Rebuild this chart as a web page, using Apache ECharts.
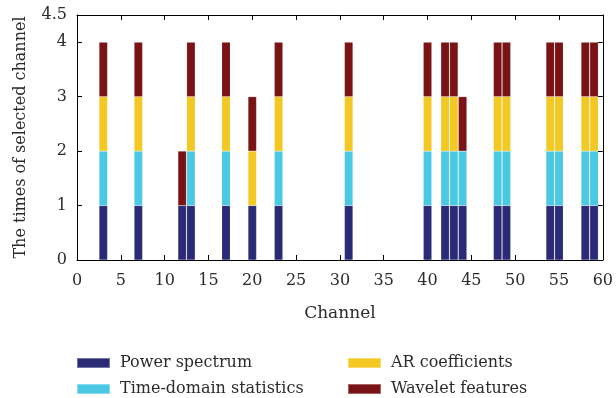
<!DOCTYPE html>
<html>
<head>
<meta charset="utf-8">
<script src="https://cdn.jsdelivr.net/npm/echarts@6/dist/echarts.min.js"></script>
<style>
  html, body { margin: 0; padding: 0; background: #fff; }
  #chart { width: 616px; height: 398px; }
</style>
</head>
<body>
<div id="chart"></div>
<script>
// Channels that were selected at least once
const channels = [3, 7, 12, 13, 17, 20, 23, 31, 40, 42, 43, 44, 48, 49, 54, 55, 58, 59];

// Selection counts per feature type, aligned with `channels`
const powerSpectrum   = [1, 1, 1, 1, 1, 1, 1, 1, 1, 1, 1, 1, 1, 1, 1, 1, 1, 1];
const timeDomainStats = [1, 1, 0, 1, 1, 0, 1, 1, 1, 1, 1, 1, 1, 1, 1, 1, 1, 1];
const arCoefficients  = [1, 1, 0, 1, 1, 1, 1, 1, 1, 1, 1, 0, 1, 1, 1, 1, 1, 1];
const waveletFeatures = [1, 1, 1, 1, 1, 1, 1, 1, 1, 1, 1, 1, 1, 1, 1, 1, 1, 1];

// Channel axis runs from 0 to 60
const channelAxis = Array.from({ length: 61 }, (_, i) => String(i));

const seriesNames = ['Power spectrum', 'Time-domain statistics', 'AR coefficients', 'Wavelet features'];
const seriesValues = [powerSpectrum, timeDomainStats, arCoefficients, waveletFeatures];
const seriesColors = ['#2a2a76', '#4ac8e4', '#f4c822', '#7a1315'];

const FONT = 'DejaVu Serif';
const TEXT = '#2b2b2b';

// Spread per-channel counts over the full channel axis
function toAxisData(values) {
  const out = channelAxis.map(() => null);
  channels.forEach((c, k) => { out[c] = values[k] || null; });
  return out;
}

const chart = echarts.init(document.getElementById('chart'), null, { renderer: 'canvas' });

const series = seriesNames.map((name, i) => ({
  name,
  type: 'bar',
  stack: 'total',
  barWidth: 8.4,
  itemStyle: { color: seriesColors[i], borderColor: 'rgba(255,255,255,0.35)', borderWidth: 0.4 },
  data: toAxisData(seriesValues[i])
}));

// One legend block per entry, laid out in two columns
const legendPos = [[76, 355], [76, 381], [347, 355], [347, 381]];
const legends = seriesNames.map((name, i) => ({
  data: [name],
  left: legendPos[i][0], top: legendPos[i][1],
  itemWidth: 33, itemHeight: 10,
  icon: 'rect',
  padding: 0,
  textStyle: { fontFamily: FONT, fontSize: 16, color: TEXT, padding: [0, 0, 0, 5] }
}));

const axisTextStyle = { fontFamily: FONT, fontSize: 16, color: TEXT };
const boxLine = { show: true, onZero: false, lineStyle: { color: '#000', width: 1 } };

chart.setOption({
  animation: false,
  textStyle: { fontFamily: FONT },
  grid: { left: 77, right: 10, top: 15, bottom: 138, containLabel: false },
  legend: legends,
  xAxis: [
    {
      type: 'category', data: channelAxis, boundaryGap: false,
      name: 'Channel', nameLocation: 'middle', nameGap: 45,
      nameTextStyle: { fontFamily: FONT, fontSize: 17, color: TEXT },
      axisLine: boxLine,
      axisTick: { show: true, inside: true, length: 5, interval: 4, lineStyle: { color: '#000' } },
      axisLabel: Object.assign({ margin: 13, interval: 4 }, axisTextStyle),
      splitLine: { show: false }
    },
    {
      type: 'category', data: channelAxis, boundaryGap: false, position: 'top',
      axisLine: boxLine,
      axisTick: { show: true, inside: true, length: 5, interval: 4, lineStyle: { color: '#000' } },
      axisLabel: { show: false },
      splitLine: { show: false }
    }
  ],
  yAxis: [
    {
      type: 'value', min: 0, max: 4.5, interval: 1,
      name: 'The times of selected channel', nameLocation: 'middle', nameGap: 48,
      nameRotate: 90,
      nameTextStyle: { fontFamily: FONT, fontSize: 16, color: TEXT },
      axisLine: boxLine,
      axisTick: { show: true, inside: true, length: 5, lineStyle: { color: '#000' } },
      axisLabel: Object.assign({ margin: 10 }, axisTextStyle),
      splitLine: { show: false }
    },
    {
      type: 'value', min: 0, max: 4.5, interval: 1, position: 'right',
      axisLine: boxLine,
      axisTick: { show: true, inside: true, length: 5, lineStyle: { color: '#000' } },
      axisLabel: { show: false },
      splitLine: { show: false }
    }
  ],
  series
});
</script>
</body>
</html>
